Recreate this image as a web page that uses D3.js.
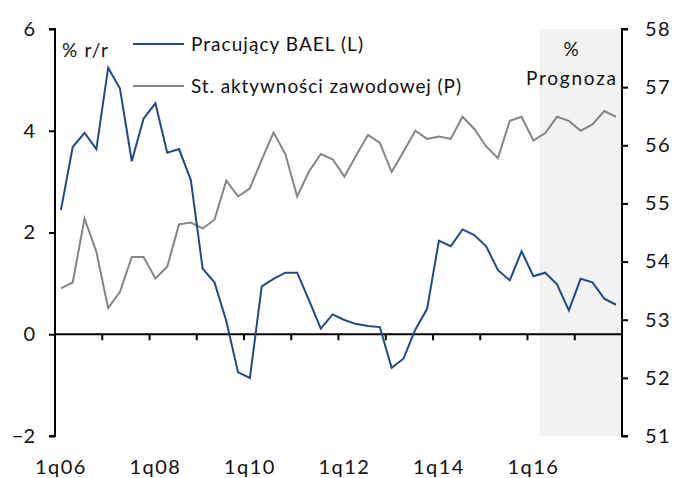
<!DOCTYPE html>
<html><head><meta charset="utf-8">
<script src="https://cdn.jsdelivr.net/npm/d3@7"></script>
<style>
html,body{margin:0;padding:0;background:#fff;}
svg{display:block;font-family:Lato,"Open Sans",sans-serif;}
</style></head>
<body><svg id="c" width="691" height="478"></svg>
<script>
const quarters = [
 "1q06","2q06","3q06","4q06","1q07","2q07","3q07","4q07",
 "1q08","2q08","3q08","4q08","1q09","2q09","3q09","4q09",
 "1q10","2q10","3q10","4q10","1q11","2q11","3q11","4q11",
 "1q12","2q12","3q12","4q12","1q13","2q13","3q13","4q13",
 "1q14","2q14","3q14","4q14","1q15","2q15","3q15","4q15",
 "1q16","2q16","3q16","4q16","1q17","2q17","3q17","4q17"];
const employed = [2.44,3.68,3.96,3.64,5.24,4.83,3.40,4.24,4.54,3.57,3.64,3.03,
 1.29,1.02,0.26,-0.75,-0.86,0.94,1.09,1.21,1.21,0.67,0.11,0.39,
 0.28,0.20,0.16,0.14,-0.66,-0.48,0.09,0.50,1.84,1.73,2.06,1.95,
 1.73,1.26,1.06,1.63,1.14,1.21,0.98,0.47,1.09,1.02,0.70,0.58];
const activity = [53.54,53.64,54.74,54.17,53.20,53.48,54.08,54.08,53.71,53.91,54.64,54.67,
 54.57,54.72,55.39,55.12,55.26,55.75,56.22,55.85,55.12,55.55,55.85,55.76,
 55.46,55.83,56.18,56.04,55.54,55.89,56.25,56.11,56.15,56.11,56.49,56.28,
 55.98,55.78,56.42,56.49,56.08,56.21,56.49,56.42,56.25,56.36,56.59,56.49];
const xLabels = ["1q06","1q08","1q10","1q12","1q14","1q16"];
const leftTicks = [-2,0,2,4,6];
const rightTicks = [51,52,53,54,55,56,57,58];
const forecastStart = "2q16";
const seriesNames = ["Pracujący BAEL (L)","St. aktywności zawodowej (P)"];

const svg = d3.select("#c");
const L = 55, R = 622, T = 29, B = 436;
const x = d3.scaleBand().domain(quarters).range([L, R]).paddingInner(0).paddingOuter(0);
const yL = d3.scaleLinear().domain([-2, 6]).range([B, T]);
const yR = d3.scaleLinear().domain([51, 58]).range([B, T]);
const cx = q => x(q) + x.bandwidth() / 2;
const blue = "#1f4a86", gray = "#858585";

// forecast shading
svg.append("rect").attr("x", x(forecastStart)).attr("y", T)
  .attr("width", R - x(forecastStart)).attr("height", B - T).attr("fill", "#f2f2f2");

// zero line (x axis) with year ticks
const gx = svg.append("g");
gx.append("line").attr("x1", L).attr("x2", R).attr("y1", yL(0)).attr("y2", yL(0))
  .attr("stroke", "#000").attr("stroke-width", 2);
quarters.forEach((q, i) => {
  if (i > 0 && i % 4 === 0) {
    gx.append("line").attr("x1", x(q)).attr("x2", x(q)).attr("y1", yL(0)).attr("y2", yL(0) + 6)
      .attr("stroke", "#000").attr("stroke-width", 2);
  }
});
const xAxis = d3.axisBottom(x).tickValues(xLabels).tickSize(0).tickPadding(0);
const gxa = svg.append("g").attr("transform", `translate(0,${B})`).call(xAxis);
gxa.select(".domain").remove();
gxa.selectAll("text").attr("y", 38).attr("dy", 0).attr("font-size", 20)
  .attr("letter-spacing", "1.5px").attr("fill", "#111").attr("font-family", "Lato, sans-serif");

// lines
const lineL = d3.line().x((d, i) => cx(quarters[i])).y(d => yL(d));
const lineR = d3.line().x((d, i) => cx(quarters[i])).y(d => yR(d));
svg.append("path").attr("d", lineR(activity)).attr("fill", "none").attr("stroke", gray).attr("stroke-width", 2);
svg.append("path").attr("d", lineL(employed)).attr("fill", "none").attr("stroke", blue).attr("stroke-width", 2);

// left axis
const ya = d3.axisLeft(yL).tickValues(leftTicks).tickSize(6).tickPadding(14).tickFormat(d3.format("d"));
const gl = svg.append("g").attr("transform", `translate(${L},0)`).call(ya);
gl.select(".domain").attr("stroke-width", 2).attr("d", `M-6,${T}H0V${B}H-6`);
gl.selectAll(".tick line").attr("stroke-width", 2);
gl.selectAll("text").attr("font-size", 20).attr("font-family", "Lato, sans-serif").attr("fill", "#111");

// right axis
const yra = d3.axisRight(yR).tickValues(rightTicks).tickSize(6).tickPadding(17).tickFormat(d3.format("d"));
const gr = svg.append("g").attr("transform", `translate(${R},0)`).call(yra);
gr.select(".domain").attr("stroke-width", 2).attr("d", `M6,${T}H0V${B}H6`);
gr.selectAll(".tick line").attr("stroke-width", 2);
gr.selectAll("text").attr("font-size", 20).attr("letter-spacing", "1.5px").attr("font-family", "Lato, sans-serif").attr("fill", "#111");

// labels
svg.append("text").attr("x", 62).attr("y", 57).attr("font-size", 19).attr("fill", "#111")
  .attr("textLength", 46).attr("lengthAdjust", "spacing").text("% r/r");
svg.append("text").attr("x", 571).attr("y", 56).attr("text-anchor", "middle").attr("font-size", 19).attr("fill", "#111").text("%");
svg.append("text").attr("x", 526).attr("y", 85).attr("font-size", 19).attr("fill", "#111")
  .attr("textLength", 90).attr("lengthAdjust", "spacing").text("Prognoza");

// legend
const leg = [{name: seriesNames[0], color: blue, y: 44, w: 172}, {name: seriesNames[1], color: gray, y: 86, w: 270}];
leg.forEach(l => {
  svg.append("line").attr("x1", 133).attr("x2", 184).attr("y1", l.y).attr("y2", l.y)
    .attr("stroke", l.color).attr("stroke-width", 2);
  svg.append("text").attr("x", 191).attr("y", l.y + 7).attr("font-size", 19).attr("fill", "#111")
    .attr("textLength", l.w).attr("lengthAdjust", "spacing").text(l.name);
});
</script></body></html>
